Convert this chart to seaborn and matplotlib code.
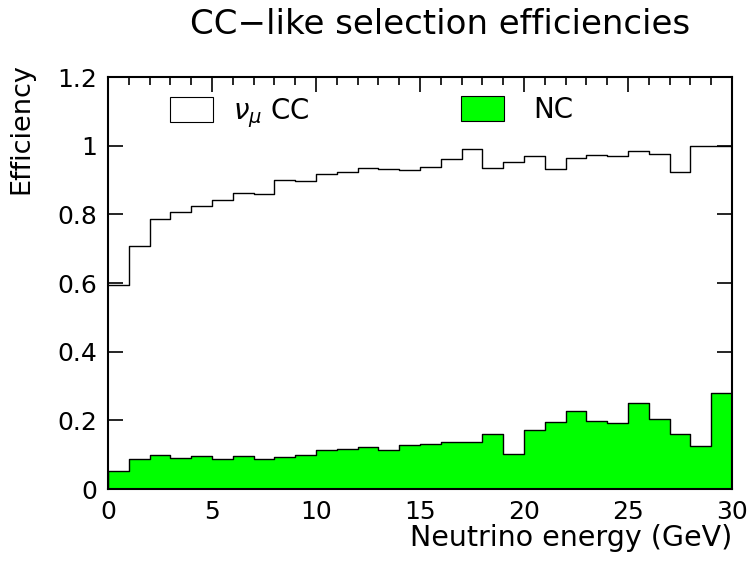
import numpy as np
import pandas as pd
import matplotlib
matplotlib.use("Agg")
import matplotlib.pyplot as plt
import seaborn as sns
from matplotlib.patches import Patch
from matplotlib.ticker import MultipleLocator

# bin edges: 1 GeV bins from 0 to 30
energy_centers = [i + 0.5 for i in range(30)]
cc_eff = [0.594, 0.709, 0.786, 0.808, 0.825, 0.843, 0.862, 0.858, 0.899, 0.897,
          0.917, 0.923, 0.934, 0.932, 0.928, 0.939, 0.962, 0.989, 0.936, 0.953,
          0.970, 0.931, 0.963, 0.974, 0.969, 0.984, 0.977, 0.922, 1.000, 1.000]
nc_eff = [0.053, 0.087, 0.098, 0.090, 0.096, 0.088, 0.096, 0.088, 0.092, 0.098,
          0.113, 0.117, 0.121, 0.115, 0.127, 0.132, 0.137, 0.137, 0.161, 0.102,
          0.171, 0.196, 0.227, 0.197, 0.192, 0.252, 0.204, 0.161, 0.125, 0.279]
labels = [r"$\nu_\mu$ CC", "NC"]

df = pd.DataFrame({"energy": energy_centers, "cc": cc_eff, "nc": nc_eff})

sns.set_style("ticks")
plt.rcParams['font.family'] = ['DejaVu Sans']
plt.rcParams['mathtext.fontset'] = 'dejavusans'
for k in ["text.color", "axes.labelcolor", "xtick.color", "ytick.color"]:
    plt.rcParams[k] = "black"

fig = plt.figure(figsize=(7.5, 5.61), dpi=100)
ax = fig.add_axes([0.144, 0.1283, 0.832, 0.7344])

sns.histplot(data=df, x="energy", weights="nc", bins=30, binrange=(0, 30),
             element="step", fill=True, color="#00ff00", alpha=1.0,
             edgecolor="black", linewidth=1.0, ax=ax)
sns.histplot(data=df, x="energy", weights="cc", bins=30, binrange=(0, 30),
             element="step", fill=False, color="black", linewidth=1.0, ax=ax)

ax.set_xlim(0, 30)
ax.set_ylim(0, 1.2)
ax.xaxis.set_minor_locator(MultipleLocator(1))
ax.set_yticks([0, 0.2, 0.4, 0.6, 0.8, 1.0, 1.2])
ax.set_yticklabels(["0", "0.2", "0.4", "0.6", "0.8", "1", "1.2"])
ax.set_xticks([0, 5, 10, 15, 20, 25, 30])
ax.set_xticklabels(["0", "5", "10", "15", "20", "25", "30"])
ax.tick_params(which="both", direction="in", top=True, right=True, labelsize=18, width=1.2,
               colors="black")
ax.tick_params(which="major", length=11, pad=8)
ax.tick_params(which="minor", length=6)
for s in ax.spines.values():
    s.set_linewidth(1.5)
    s.set_visible(True)
    s.set_color("black")

ax.set_xlabel("Neutrino energy (GeV)", fontsize=20.5, loc="right", labelpad=0)
ax.set_ylabel("Efficiency", fontsize=19.5, loc="top")
ax.yaxis.set_label_coords(-0.118, 1.034)

fig.suptitle("CC\u2212like selection efficiencies", fontsize=24.5, x=0.587, y=0.985)

h_cc = Patch(facecolor="white", edgecolor="black", linewidth=0.8)
h_nc = Patch(facecolor="#00ff00", edgecolor="black", linewidth=0.8)
common = dict(loc="upper left", frameon=False, fontsize=20, handlelength=1.55,
              handleheight=1.0, borderpad=0, borderaxespad=0)
leg1 = ax.legend([h_cc], [labels[0]], bbox_to_anchor=(0.0994, 0.953),
                 handletextpad=0.7, **common)
ax.add_artist(leg1)
ax.legend([h_nc], [labels[1]], bbox_to_anchor=(0.5657, 0.953),
          handletextpad=1.05, **common)

fig.savefig("out.png", dpi=100)
